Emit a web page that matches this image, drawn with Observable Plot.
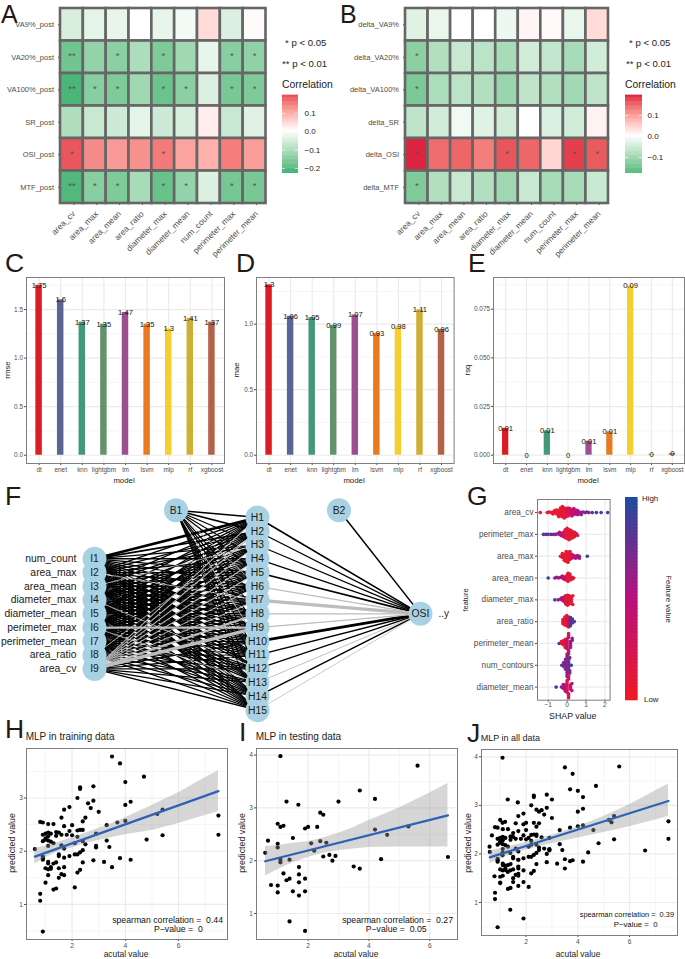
<!DOCTYPE html>
<html><head><meta charset="utf-8">
<script src="https://cdn.jsdelivr.net/npm/d3@7"></script>
<script src="https://cdn.jsdelivr.net/npm/@observablehq/plot@0.6"></script>
<style>html,body{margin:0;padding:0;background:#fff}#root{position:relative;width:685px;height:959px;overflow:hidden}</style>
</head><body><div id="root"></div>
<script>
// ---------- data ----------
const heatFeatures = ["area_cv","area_max","area_mean","area_ratio","diameter_max","diameter_mean","num_count","perimeter_max","perimeter_mean"];
const rowsA = ["VA9%_post","VA20%_post","VA100%_post","SR_post","OSI_post","MTF_post"];
const rowsB = ["delta_VA9%","delta_VA20%","delta_VA100%","delta_SR","delta_OSI","delta_MTF"];
const valuesA = [
 [-.05,-.035,-.03,0,-.03,-.015,.04,-.045,.005],
 [-.175,-.135,-.145,-.105,-.16,-.12,-.03,-.15,-.14],
 [-.215,-.15,-.16,-.12,-.18,-.145,-.045,-.165,-.16],
 [-.1,-.07,-.065,-.035,-.065,-.05,.02,-.07,-.04],
 [.185,.13,.115,.125,.15,.105,.09,.145,.11],
 [-.21,-.15,-.16,-.11,-.185,-.135,-.045,-.17,-.165]];
const starsA = [
 ["","","","","","","","",""],
 ["**","","*","","*","","","*","*"],
 ["**","*","*","","*","*","","*","*"],
 ["","","","","","","","",""],
 ["*","","","","*","","","",""],
 ["**","*","*","","*","*","","*","*"]];
const valuesB = [
 [-.035,-.025,0,0,-.02,.01,.005,-.025,.035],
 [-.125,-.085,-.06,-.075,-.095,-.05,-.065,-.095,-.05],
 [-.14,-.09,-.075,-.085,-.11,-.07,-.085,-.1,-.07],
 [-.07,-.05,-.015,-.035,-.05,0,-.04,-.05,.012],
 [.19,.14,.145,.125,.16,.145,.04,.175,.155],
 [-.135,-.085,-.06,-.085,-.105,-.06,-.095,-.095,-.06]];
const starsB = [
 ["","","","","","","","",""],
 ["*","","","","","","","",""],
 ["*","","","","","","","",""],
 ["","","","","","","","",""],
 ["*","","","","*","","","*","*"],
 ["*","","","","","","","",""]];

const models = ["dt","enet","knn","lightgbm","lm","lsvm","mlp","rf","xgboost"];
const modelColors = ["#dc1c23","#5a6596","#439878","#63936b","#9b4f8e","#ea7a1f","#f5cf2e","#cfae35","#b3624a"];
const rmse = [1.75,1.6,1.37,1.35,1.47,1.35,1.3,1.41,1.37];
const rmseLabels = ["1.75","1.6","1.37","1.35","1.47","1.35","1.3","1.41","1.37"];
const mae = [1.3,1.06,1.05,.99,1.07,.93,.98,1.11,.96];
const maeLabels = ["1.3","1.06","1.05","0.99","1.07","0.93","0.98","1.11","0.96"];
const rsq = [.0138,0,.0125,0,.0072,.012,.087,.0004,.0008];
const rsqLabels = ["0.01","0","0.01","0","0.01","0.01","0.09","0","0"];

const inputNames = ["num_count","area_max","area_mean","diameter_max","diameter_mean","perimeter_max","perimeter_mean","area_ratio","area_cv"];
const hiddenNames = ["H1","H2","H3","H4","H5","H6","H7","H8","H9","H10","H11","H12","H13","H14","H15"];
const inputWeights = [
 [2.2,1.4,1,1.2,1,1,1,1,1,1,1,1,1,1,1],
 [1,1,1,1,1,1,-.7,1,1.3,1,1,1,1,1,1],
 [1,1,-.7,1,1.2,1,1,1,1,1,1,1,1,1,1],
 [1,1,1,1,1,1,1.2,1,1,1,1,-.7,1,1,1],
 [1,1,1,1,1,1.2,1,1.2,1,1,1,1,1,1,1],
 [1,1,1,1,1,1,1,1,-1.8,1,1,1,-.7,1,1],
 [1,1,1,1,1,1,1.2,1,1,1,1,1,1,1,1],
 [1,-.7,1,1,1,1,1,1,1.2,1,1,1,1,1,1],
 [-.9,-.9,-.9,-.9,-.9,-.7,-.9,-1.8,-2.8,1,1,1,1,1,1.2]];
const biasWeights = [1.2,1.2,1,1,1,-.8,1,1,1,-.8,1,1,1,1,1];
const outputWeights = [1.3,1,1,1,1.3,-1,-2.8,-1.2,-1,2.2,1.2,1,-.8,1.2,-.7];

const shapFeatures = ["area_cv","perimeter_max","area_max","area_mean","diameter_max","area_ratio","perimeter_mean","num_contours","diameter_mean"];
// [shap value, dots at that value, feature value 0..1]
const shapCv = [[-1.42,1,.02],[-1.05,1,.1],[-.95,1,.1],[-.85,1,.1],[-.75,2,.05],[-.65,2,.05],[-.55,3,.05],[-.45,4,.05],[-.35,5,.1],[-.25,6,.1],[-.15,6,.1],[-.05,5,.15],[.05,5,.2],[.15,4,.3],[.25,4,.4],[.35,4,.4],[.45,3,.45],[.55,3,.5],[.65,2,.55],[.75,2,.6],[.85,1,.65],[.95,1,.7],[1.05,1,.75],[1.15,1,.7],[1.33,1,.75],[1.55,1,.95],[1.8,1,.8],[2.15,1,.85]];
const shapPerimMax = [[-1.25,1,.85],[-1.12,1,.8],[-1,1,.7],[-.85,1,.95],[-.72,1,.7],[-.6,1,.6],[-.5,1,.6],[-.4,2,.55],[-.3,2,.5],[-.2,3,.35],[-.1,5,.2],[0,6,.1],[.1,6,.1],[.2,5,.1],[.3,4,.1],[.4,3,.1],[.5,1,.15],[.55,1,.15]];
const shapAreaMax = [[-.35,1,.1],[-.25,3,.1],[-.15,4,.05],[-.05,6,.05],[.05,6,.05],[.15,5,.1],[.25,3,.2],[.35,2,.45],[.45,2,.5],[.55,2,.55],[.65,2,.6],[1.07,1,.95]];
const shapAreaMean = [[-1,1,.95],[-.65,1,.6],[-.55,1,.6],[-.45,1,.6],[-.35,1,.55],[-.25,2,.5],[-.15,2,.4],[-.05,3,.25],[.05,5,.1],[.15,4,.1],[.25,2,.15],[.35,1,.15]];
const shapDiamMax = [[-.65,1,.95],[-.48,1,.6],[-.38,1,.55],[-.28,2,.55],[-.18,3,.4],[-.08,5,.25],[.02,6,.1],[.12,5,.1],[.22,4,.1],[.3,2,.1]];
const shapRatio = [[-.22,3,.1],[-.12,5,.05],[-.02,6,.1],[.08,6,.4],[.18,5,.9],[.28,3,.8],[.38,1,.8]];
const shapPerimMean = [[-.42,1,.95],[-.3,2,.1],[-.2,3,.1],[-.1,5,.15],[0,6,.35],[.08,6,.3],[.18,4,.55],[.27,2,.7]];
const shapContours = [[-.28,1,.85],[-.18,3,.7],[-.08,6,.7],[0,7,.65],[.08,6,.7],[.14,3,.7],[.22,1,.95]];
const shapDiamMean = [[-.58,1,.95],[-.3,1,.6],[-.2,3,.6],[-.1,4,.5],[0,7,.2],[.08,6,.25],[.18,3,.4],[.25,2,.5]];
const shapRows = [shapCv,shapPerimMax,shapAreaMax,shapAreaMean,shapDiamMax,shapRatio,shapPerimMean,shapContours,shapDiamMean];

const trainPoints = [[3.5,3.78],[3.8,3.65],[4.0,3.30],[4.7,3.40],[2.3,3.20],[2.3,3.17],[2.8,3.22],[2.2,3.0],[2.8,2.95],[2.6,2.90],[1.9,2.83],[1.7,2.78],[1.6,2.63],[2.7,2.81],[3.0,2.74],[2.5,2.63],[2.4,2.56],[4.0,2.87],[4.2,2.93],[0.8,2.55],[0.9,2.54],[1.1,2.51],[1.3,2.51],[1.7,2.47],[2.0,2.49],[1.9,2.38],[3.3,2.49],[3.7,2.54],[4.0,2.57],[5.2,2.70],[5.4,2.78],[7.5,2.67],[7.5,2.31],[5.4,2.30],[4.8,2.22],[0.9,2.31],[1.0,2.33],[1.1,2.35],[1.2,2.33],[1.4,2.36],[1.5,2.35],[1.6,2.31],[1.8,2.31],[2.0,2.30],[2.2,2.39],[2.3,2.40],[2.4,2.40],[1.4,2.29],[2.2,2.27],[2.9,2.33],[3.3,2.2],[3.4,2.08],[2.9,2.10],[2.9,2.07],[2.4,2.19],[2.5,2.13],[2.1,2.15],[1.6,2.11],[1.7,2.05],[1.1,2.10],[1.0,2.22],[1.1,2.2],[0.9,2.19],[1.2,2.18],[1.3,2.15],[1.1,2.28],[1.0,2.24],[0.6,2.04],[0.9,1.90],[0.9,1.87],[0.9,1.84],[1.5,1.94],[1.5,1.91],[1.7,1.88],[1.9,1.91],[2.1,1.94],[2.2,1.94],[2.3,1.98],[2.4,2.02],[2.8,1.83],[3.2,1.80],[3.8,1.87],[4.2,1.84],[3.5,1.70],[2.4,1.79],[1.1,1.80],[1.1,1.77],[1.3,1.77],[1.4,1.79],[1.0,1.68],[1.1,1.66],[1.2,1.67],[1.2,1.70],[1.5,1.68],[1.7,1.70],[2.3,1.65],[2.2,1.60],[1.1,1.55],[1.5,1.50],[1.6,1.57],[1.7,1.55],[1.0,1.41],[1.3,1.28],[1.4,1.30],[2.1,1.32],[0.8,1.20],[0.8,1.07],[0.9,0.49]];
const testPoints = [[1.09,3.98],[1.29,3.12],[1.68,3.06],[3.0,3.12],[3.7,3.33],[4.2,3.17],[5.6,3.80],[2.4,2.91],[2.5,2.87],[1.0,2.70],[1.09,2.64],[1.19,2.66],[1.9,2.61],[2.0,2.64],[2.3,2.64],[4.2,2.59],[4.6,2.49],[5.3,2.65],[.68,2.38],[1.5,2.43],[1.0,2.32],[1.0,2.25],[2.1,2.33],[2.4,2.37],[2.6,2.34],[.59,2.15],[2.2,2.19],[2.5,2.08],[2.7,2.11],[2.9,2.09],[2.8,2.0],[1.39,2.02],[1.09,2.02],[1.09,1.97],[4.4,2.03],[6.6,2.07],[3.5,1.89],[3.7,1.85],[1.7,1.88],[1.19,1.76],[1.7,1.74],[1.39,1.66],[1.29,1.63],[1.9,1.66],[.78,1.54],[1.0,1.53],[1.7,1.59],[1.0,1.40],[1.5,1.42],[1.9,1.42],[1.7,1.34],[1.39,.85],[1.9,.67]];
const allPoints = trainPoints.concat(testPoints);

const trainBandX = [.6,1,1.5,2,2.5,3,3.5,4,5,6,7,7.5];
const trainLow = [1.76,1.88,2.0,2.06,2.14,2.20,2.26,2.31,2.39,2.52,2.67,2.74];
const trainHigh = [2.05,2.10,2.17,2.26,2.34,2.43,2.52,2.63,2.86,3.10,3.38,3.51];
const trainLine = [[.6,1.90],[7.5,3.13]];
const testBandX = [.6,1,1.5,2,2.5,3,3.5,4,5,6,6.6];
const testLow = [1.71,1.83,1.96,2.06,2.14,2.19,2.22,2.25,2.26,2.26,2.26];
const testHigh = [2.27,2.29,2.33,2.36,2.43,2.52,2.63,2.76,3.0,3.28,3.46];
const testLine = [[.59,1.99],[6.6,2.86]];
const allBandX = [.6,1,1.5,2,2.5,3,3.5,4,5,6,7,7.5];
const allLow = [1.80,1.90,2.0,2.08,2.15,2.21,2.27,2.33,2.44,2.56,2.70,2.77];
const allHigh = [2.06,2.11,2.17,2.24,2.31,2.39,2.47,2.56,2.77,3.01,3.30,3.44];
const allLine = [[.6,1.93],[7.5,3.09]];

// ---------- helpers ----------
const FF = '"Liberation Sans",Arial,sans-serif';
const root = document.getElementById("root");
const GRAY = "#4d4d4d", FRAME = "#7f7f7f";
function place(f, m, opts){
  const [x0,x1,y0,y1]=f, [ml,mr,mt,mb]=m;
  root.append(Plot.plot({width:x1-x0+ml+mr,height:y1-y0+mt+mb,marginLeft:ml,marginRight:mr,marginTop:mt,marginBottom:mb,
    style:{position:"absolute",left:`${x0-ml}px`,top:`${y0-mt}px`,background:"transparent",fontFamily:FF,overflow:"visible",maxWidth:"none"},...opts}));
}
function txt(s,x,y,{size=8,anchor="start",color="#222",rotate=0}={}){
  const d=document.createElement("div"); d.textContent=s;
  const tx = anchor==="end"?"-100%":anchor==="middle"?"-50%":"0";
  d.style.cssText=`position:absolute;left:${x}px;top:${y}px;white-space:pre;font:${size}px ${FF};line-height:0;color:${color};transform:translateX(${tx}) rotate(${rotate}deg);transform-origin:${anchor==="middle"?"50%":anchor==="end"?"100%":"0"} 0;`;
  root.append(d);
}
const letter=(s,x,base,size=26.5)=>txt(s,x,base-.3465*size,{size,color:"#231815"});

// heatmap
function heatmap(f,rows,vals,stars,m,colorLo,colorHi){
  const cells=[]; rows.forEach((r,i)=>heatFeatures.forEach((c,j)=>cells.push({r,c,v:vals[i][j],s:stars[i][j]})));
  place(f,[60,8,4,62],{
    x:{type:"band",domain:heatFeatures,padding:0,round:false},
    y:{type:"band",domain:rows,padding:0,round:false},
    color:{type:"linear",domain:[-m,0,m],range:[colorLo,"#ffffff",colorHi],interpolate:"lab"},
    marks:[
      Plot.axisX({tickRotate:-45,tickSize:2,tickPadding:7,dx:2,fontSize:8.4,color:GRAY,label:null}),
      Plot.axisY({tickSize:2,tickPadding:4.5,fontSize:7.5,color:GRAY,label:null}),
      Plot.cell(cells,{x:"c",y:"r",fill:"v",stroke:"#666",strokeWidth:2.6,inset:0}),
      Plot.text(cells.filter(d=>d.s),{x:"c",y:"r",text:"s",fill:"#555",fontSize:9.5,dy:-1})
    ]});
}
function colorbar(f,lo,hi,ticks,labelX,colorOpts){
  const n=60, steps=d3.range(n).map(i=>lo+(hi-lo)*i/n), st=(hi-lo)/n;
  place(f,[0,45,0,0],{
    x:{domain:[0,1],axis:null}, y:{domain:[lo,hi],axis:null}, color:colorOpts,
    marks:[
      Plot.rect(steps,{x1:0,x2:1,y1:d=>d,y2:d=>d+st*1.3,fill:d=>d}),
      Plot.ruleY(ticks,{x1:0,x2:.2,stroke:"#fff",strokeOpacity:.6}),
      Plot.ruleY(ticks,{x1:.8,x2:1,stroke:"#fff",strokeOpacity:.6}),
      Plot.text(ticks,{x:()=>1,y:d=>d,text:d=>d3.format(".1f")(d).replace("-","\u2212"),textAnchor:"start",dx:labelX-f[1],fontSize:8,fill:"#222"})
    ]});
}
// bar panels
function barsPanel(f,vals,labels,yDom,major,minor,fmt){
  const data=models.map((m,i)=>({m,v:vals[i],l:labels[i]}));
  place(f,[30,4,4,14],{
    x:{type:"band",domain:models,paddingInner:.7,paddingOuter:.433,round:false},
    y:{domain:yDom},
    color:{domain:models,range:modelColors},
    marks:[
      Plot.ruleY(minor,{stroke:"#f1f1f1",strokeWidth:.7}),
      Plot.ruleY(major,{stroke:"#ebebeb",strokeWidth:1.2}),
      Plot.ruleX(models,{stroke:"#ebebeb",strokeWidth:1.2}),
      Plot.barY(data,{x:"m",y:"v",fill:"m"}),
      Plot.text(data,{x:"m",y:"v",text:"l",fontSize:7.6,fill:"#111"}),
      Plot.axisX({tickSize:2,tickPadding:1.5,fontSize:6.4,color:GRAY,label:null}),
      Plot.axisY({ticks:major,tickFormat:fmt,tickSize:2,tickPadding:1.5,fontSize:6.4,color:GRAY,label:null}),
      Plot.frame({stroke:FRAME,strokeWidth:1})
    ]});
}
// scatter panels
function scatter(f,xDom,yDom,points,bandX,low,high,line,yMajor,yMinor){
  const band=bandX.map((x,i)=>({x,lo:low[i],hi:high[i]}));
  place(f,[25,4,4,16],{
    x:{domain:xDom}, y:{domain:yDom},
    marks:[
      Plot.ruleY(yMinor,{stroke:"#f1f1f1",strokeWidth:.7}),
      Plot.ruleY(yMajor,{stroke:"#ebebeb",strokeWidth:1.2}),
      Plot.ruleX([1,3,5,7].filter(v=>v<xDom[1]),{stroke:"#f1f1f1",strokeWidth:.7}),
      Plot.ruleX([2,4,6],{stroke:"#ebebeb",strokeWidth:1.2}),
      Plot.dot(points,{x:d=>d[0],y:d=>d[1],r:2.1,fill:"#000"}),
      Plot.areaY(band,{x:"x",y1:"lo",y2:"hi",fill:"#999",fillOpacity:.4}),
      Plot.line(line,{x:d=>d[0],y:d=>d[1],stroke:"#2f62b5",strokeWidth:2.3}),
      Plot.axisX({ticks:[2,4,6],tickFormat:d=>d,tickSize:2,tickPadding:1.5,fontSize:6.6,color:GRAY,label:null}),
      Plot.axisY({ticks:yMajor,tickFormat:d=>d,tickSize:2,tickPadding:1.5,fontSize:6.6,color:GRAY,label:null}),
      Plot.frame({stroke:FRAME,strokeWidth:1})
    ]});
}

// ---------- A / B ----------
letter("A",1,22.6,25);
const mA=.227, mB=.195;
const LOW="#3CB371", HIGH="#DC143C";
heatmap([59.5,265,8,203],rowsA,valuesA,starsA,mA,LOW,HIGH);
txt("* p < 0.05",285,43,{size:9.6});
txt("** p < 0.01",282,64,{size:9.6});
txt("Correlation",282,85,{size:10.4});
colorbar([282,298,95,173],-.227,.197,[-.2,-.1,0,.1],304,{type:"linear",domain:[-mA,0,mA],range:[LOW,"#fff",HIGH],interpolate:"lab"});

letter("B",340,22.6,25);
heatmap([405,608,8,203],rowsB,valuesB,starsB,mB,LOW,HIGH);
txt("* p < 0.05",629,43,{size:9.6});
txt("** p < 0.01",626,64,{size:9.6});
txt("Correlation",625,85,{size:10.4});
colorbar([625,642,95,173],-.176,.195,[-.1,0,.1],647,{type:"linear",domain:[-mB,0,mB],range:[LOW,"#fff",HIGH],interpolate:"lab"});

// ---------- C D E ----------
letter("C",5,272); letter("D",236,272); letter("E",468,272);
const f1=d3.format(".1f"), f3=d3.format(".3f");
barsPanel([25.7,223.7,277,463],rmse,rmseLabels,[-.085,1.83],[0,.5,1,1.5],[.25,.75,1.25,1.75],f1);
barsPanel([255.7,453.3,277,463],mae,maeLabels,[-.063,1.356],[0,.5,1],[.25,.75,1.25],f1);
barsPanel([492.7,683.7,277,463],rsq,rsqLabels,[-.00426,.0913],[0,.025,.05,.075],[.0125,.0375,.0625,.0875],f3);
txt("model",124,481,{size:7.8,anchor:"middle"});
txt("model",354,481,{size:7.8,anchor:"middle"});
txt("model",588,481,{size:7.8,anchor:"middle"});
txt("rmse",8,370,{size:7.8,anchor:"middle",rotate:-90});
txt("mae",237,370,{size:7.8,anchor:"middle",rotate:-90});
txt("rsq",468,370,{size:7.8,anchor:"middle",rotate:-90});

// ---------- F network ----------
letter("F",5,505);
const edges=[];
inputWeights.forEach((row,i)=>row.forEach((w,j)=>edges.push({x1:0,y1:i+3,x2:1,y2:j,w})));
biasWeights.forEach((w,j)=>edges.push({x1:.5,y1:-.53,x2:1,y2:j,w}));
outputWeights.forEach((w,j)=>edges.push({x1:1,y1:j,x2:2,y2:7,w}));
edges.push({x1:1.5,y1:-.53,x2:2,y2:7,w:1.2});
const nodes=[
  ...inputNames.map((n,i)=>({x:0,y:i+3,t:"I"+(i+1)})),
  ...hiddenNames.map((t,j)=>({x:1,y:j,t})),
  {x:.5,y:-.53,t:"B1"},{x:1.5,y:-.53,t:"B2"},{x:2,y:7,t:"OSI"}];
place([93.7,419.7,517.3,710],[93,45,25,15],{
  x:{domain:[0,2],axis:null}, y:{domain:[14,0],axis:null},
  marks:[
    Plot.link(edges.filter(d=>d.w>0),{x1:"x1",y1:"y1",x2:"x2",y2:"y2",stroke:"#000",strokeWidth:d=>Math.abs(d.w)*1.25}),
    Plot.link(edges.filter(d=>d.w<0),{x1:"x1",y1:"y1",x2:"x2",y2:"y2",stroke:"#bdbdbd",strokeWidth:d=>Math.abs(d.w)*1.15}),
    Plot.dot(nodes,{x:"x",y:"y",r:12,fill:"#a8d2e3"}),
    Plot.text(nodes,{x:"x",y:"y",text:"t",fontSize:10.4,fill:"#231815"}),
    Plot.text(inputNames,{x:()=>0,y:(d,i)=>i+3,text:d=>d,textAnchor:"end",dx:-18,fontSize:10.4,fill:"#231815"}),
    Plot.text(["..y"],{x:()=>2,y:()=>7,text:d=>d,textAnchor:"start",dx:18,fontSize:10,fill:"#231815"})
  ]});

// ---------- G SHAP ----------
letter("G",467,505);
const shapColor={type:"linear",domain:[0,.5,1],range:["#ee1b26","#b8117f","#1e4ca1"]};
const fG=[536.7,609.3,499.3,700];
place(fG,[72,4,2,14],{
  x:{domain:[-1.566,2.275]},
  y:{type:"band",domain:shapFeatures,paddingInner:0,paddingOuter:.1,round:false},
  marks:[
    Plot.ruleY(shapFeatures,{stroke:"#ebebeb",strokeWidth:1.2}),
    Plot.ruleX([-1,0,1,2],{stroke:"#ebebeb",strokeWidth:1.2}),
    Plot.axisX({ticks:[-1,0,1,2],tickFormat:d=>String(d).replace("-","\u2212"),tickSize:2,tickPadding:.5,fontSize:6.6,color:GRAY,label:null}),
    Plot.axisY({tickSize:2,tickPadding:2,fontSize:8.2,color:GRAY,label:null}),
    Plot.frame({stroke:FRAME,strokeWidth:1})
  ]});
const shapDots=[];
shapRows.forEach((row,i)=>row.forEach(([x,n,c])=>{for(let k=0;k<n;k++)shapDots.push({f:shapFeatures[i],x,c});}));
place(fG,[0,0,0,0],{
  x:{domain:[-1.566,2.275],axis:null},
  fy:{domain:shapFeatures,axis:null,paddingInner:0,paddingOuter:.1,round:false},
  color:shapColor,
  marks:[Plot.dot(shapDots,Plot.dodgeY({anchor:"middle",padding:-1.6,x:"x",fy:"f",fill:"c",r:1.8}))]
});
txt("SHAP value",572.7,716,{size:8.8,anchor:"middle"});
txt("feature",465.7,600,{size:7.4,anchor:"middle",rotate:-90});
{ const n=60, st=1/n, steps=d3.range(n).map(i=>i*st);
  place([624.7,637.3,498.3,700.7],[0,0,0,0],{
    x:{domain:[0,1],axis:null},y:{domain:[0,1],axis:null},color:shapColor,
    marks:[Plot.rect(steps,{x1:0,x2:1,y1:d=>d,y2:d=>d+st*1.3,fill:d=>d})]});
}
txt("High",642,499,{size:7.9});
txt("Low",644,700,{size:7.9});
txt("Feature value",667.7,599.3,{size:7.8,anchor:"middle",rotate:90});

// ---------- H I J ----------
letter("H",5,738); letter("I",239,741); letter("J",467,742);
scatter([25.7,226.7,747.7,938.7],[.286,7.84],[.342,3.93],trainPoints,trainBandX,trainLow,trainHigh,trainLine,[1,2,3],[.5,1.5,2.5,3.5]);
scatter([255.7,456.7,747.7,938.7],[.303,6.914],[.508,4.125],testPoints,testBandX,testLow,testHigh,testLine,[1,2,3,4],[1.5,2.5,3.5]);
scatter([480.7,676.7,749.3,935.3],[.278,7.85],[.32,4.15],allPoints,allBandX,allLow,allHigh,allLine,[1,2,3,4],[.5,1.5,2.5,3.5]);
txt("MLP in training data",25.7,736.5,{size:10});
txt("MLP in testing data",255.7,736.5,{size:10});
txt("MLP in all data",480.7,737.5,{size:9});
txt("predicted value",11.7,842.7,{size:8.8,anchor:"middle",rotate:-90});
txt("predicted value",241.7,843,{size:8.8,anchor:"middle",rotate:-90});
txt("predicted value",468.3,842.7,{size:8.8,anchor:"middle",rotate:-90});
txt("acutal value",126,953.8,{size:8.4,anchor:"middle"});
txt("acutal value",356,953.8,{size:8.4,anchor:"middle"});
txt("acutal value",578,953.8,{size:8.4,anchor:"middle"});
txt("spearman correlation =  0.44",223,920,{size:8.7,anchor:"end",color:"#111"});
txt("P\u2212value =  0",154,929.3,{size:8.7,color:"#111"});
txt("spearman correlation =  0.27",453,920,{size:8.7,anchor:"end",color:"#111"});
txt("P\u2212value =  0.05",365.7,929.3,{size:8.7,color:"#111"});
txt("spearman correlation =  0.39",674,915.3,{size:7.4,anchor:"end",color:"#111"});
txt("P\u2212value =  0",613.7,924.7,{size:7.8,color:"#111"});
</script></body></html>
